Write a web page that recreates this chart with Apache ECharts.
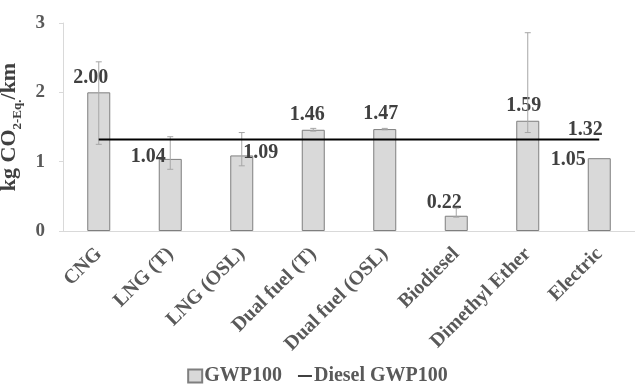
<!DOCTYPE html>
<html>
<head>
<meta charset="utf-8">
<script src="https://cdn.jsdelivr.net/npm/echarts@6/dist/echarts.min.js"></script>
<style>html,body{margin:0;padding:0;background:#fff}#c{width:635px;height:392px}</style>
</head>
<body>
<div id="c"></div>
<script>
const categories = ['CNG', 'LNG (T)', 'LNG (OSL)', 'Dual fuel (T)', 'Dual fuel (OSL)', 'Biodiesel', 'Dimethyl Ether', 'Electric'];
const gwp100 = [2.00, 1.04, 1.09, 1.46, 1.47, 0.22, 1.59, 1.05];
const errLow = [1.25, 0.89, 0.94, 1.44, 1.46, 0.20, 1.42, null];
const errHigh = [2.44, 1.36, 1.42, 1.48, 1.48, 0.33, 2.86, null];
const dieselGwp100 = [1.32, 1.32, 1.32, 1.32, 1.32, 1.32, 1.32, 1.32];
const yTicks = [0, 1, 2, 3];

const labelOffsets = [[-8,0],[-22,13],[19,12],[-6,0],[-4,0],[-12,2],[-4,0],[-31,17]];
const FONT = '"Liberation Serif", "Times New Roman", serif';

const chart = echarts.init(document.getElementById('c'));
chart.setOption({
  animation: false,
  grid: { left: 63, right: 0, top: 23, bottom: 161, containLabel: false, outerBoundsMode: 'none' },
  legend: {
    bottom: 1, left: 'center', itemGap: 16, itemWidth: 14, itemHeight: 13,
    textStyle: { fontFamily: FONT, fontWeight: 'bold', fontSize: 20, color: '#595959', padding: [0,0,0,-3] },
    data: [{ name: 'GWP100', icon: 'rect' }, { name: 'Diesel GWP100', icon: 'path://M0,6H14V8H0Z' }]
  },
  xAxis: {
    type: 'category', data: categories,
    axisLine: { lineStyle: { color: '#d9d9d9', width: 1 } },
    axisTick: { show: false },
    axisLabel: { rotate: 45, margin: 20, interval: 0, fontFamily: FONT, fontWeight: 'bold', fontSize: 20, color: '#595959' }
  },
  yAxis: {
    type: 'value', min: 0, max: 3, interval: 1,
    axisLine: { show: true, lineStyle: { color: '#d9d9d9' } },
    axisTick: { show: true, length: 4, lineStyle: { color: '#d9d9d9' } },
    splitLine: { show: false },
    axisLabel: { margin: 18, fontFamily: FONT, fontWeight: 'bold', fontSize: 19, color: '#595959',
      formatter: v => yTicks.includes(v) ? String(v) : '' },
    name: '{a|kg CO}{b|2-Eq.}{a|/km}', nameLocation: 'middle', nameRotate: 90, nameGap: 27,
    nameTextStyle: {
      rich: {
        a: { fontFamily: FONT, fontWeight: 'bold', fontSize: 22, color: '#404040', lineHeight: 26, verticalAlign: 'bottom' },
        b: { fontFamily: FONT, fontWeight: 'bold', fontSize: 13, color: '#404040', lineHeight: 26, verticalAlign: 'bottom', padding: [0,0,-4,0] }
      }
    }
  },
  series: [
    {
      name: 'GWP100', type: 'bar', barWidth: 23, z: 2,
      itemStyle: { color: '#d9d9d9', borderColor: '#7f7f7f', borderWidth: 1 },
      data: gwp100.map((v, i) => ({
        value: v,
        label: { show: true, position: 'top', distance: 5, offset: labelOffsets[i],
          formatter: p => p.value.toFixed(2),
          fontFamily: FONT, fontWeight: 'bold', fontSize: 20, color: '#404040' }
      }))
    },
    {
      name: 'errors', type: 'custom', z: 3, silent: true,
      data: errLow.map((lo, i) => [i, lo, errHigh[i]]).filter(d => d[1] != null),
      renderItem: (params, api) => {
        const x = api.value(0);
        const lo = api.coord([x, api.value(1)]);
        const hi = api.coord([x, api.value(2)]);
        const cw = 3;
        const style = { stroke: '#a6a6a6', lineWidth: 1 };
        return { type: 'group', children: [
          { type: 'line', shape: { x1: lo[0], y1: lo[1], x2: hi[0], y2: hi[1] }, style },
          { type: 'line', shape: { x1: lo[0]-cw, y1: lo[1], x2: lo[0]+cw, y2: lo[1] }, style },
          { type: 'line', shape: { x1: hi[0]-cw, y1: hi[1], x2: hi[0]+cw, y2: hi[1] }, style }
        ]};
      },
      encode: { x: 0, y: [1, 2] }
    },
    {
      name: 'Diesel GWP100', type: 'line', z: 4, symbol: 'circle', symbolSize: 0, showSymbol: true,
      lineStyle: { color: '#000', width: 2 }, itemStyle: { color: '#404040' },
      data: dieselGwp100.map((v, i) => i === dieselGwp100.length - 1 ? ({
        value: v,
        label: { show: true, position: 'top', distance: 5, offset: [-14, 5], formatter: p => p.value.toFixed(2),
          fontFamily: FONT, fontWeight: 'bold', fontSize: 20, color: '#404040' }
      }) : v)
    }
  ]
});
</script>
</body>
</html>
